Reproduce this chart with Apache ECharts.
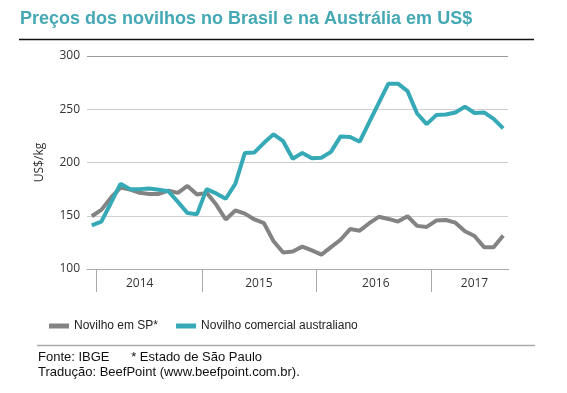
<!DOCTYPE html>
<html><head><meta charset="utf-8">
<script src="https://cdn.jsdelivr.net/npm/echarts@6/dist/echarts.min.js"></script>
<style>html,body{margin:0;padding:0;background:#fff;}#c{width:567px;height:393px;}</style>
</head><body><div id="c"></div>
<script>
const months = [
 'jan/14','fev/14','mar/14','abr/14','mai/14','jun/14','jul/14','ago/14','set/14','out/14','nov/14','dez/14',
 'jan/15','fev/15','mar/15','abr/15','mai/15','jun/15','jul/15','ago/15','set/15','out/15','nov/15','dez/15',
 'jan/16','fev/16','mar/16','abr/16','mai/16','jun/16','jul/16','ago/16','set/16','out/16','nov/16','dez/16',
 'jan/17','fev/17','mar/17','abr/17','mai/17','jun/17','jul/17','ago/17'];
const novilhoSP = [149.5,155.5,167,176.5,174.5,171.5,170.5,170.5,173.5,171.5,178,170,
 171.5,160.5,146.5,155,152,146.5,143,126,115.5,116.5,121,117.5,
 113.5,120.5,127.5,137.5,136,143,149,147,144.5,149.5,140.5,139.5,
 145.5,146,143.5,135.5,131,120.5,120.5,131.5];
const novilhoAus = [141,144.5,162,180,175,175,175.5,174.5,173,163,152.5,151.5,
 175,171,166,180,209,209.5,218.5,226.5,220,203.5,209,204,
 204.5,210,224.5,224,219.5,238,256,274,274,267,246,236,
 244.5,245,247,252.5,246.5,247,241,232];
const yearLabels = ['2014','2015','2016','2017'];
const yearLabelIdx = [5,17,30,40];
const yearLabelStyle = ['c','r','l','c'];
const yearDividerIdx = [1,12,24,36];
const yTicks = [100,150,200,250,300];

const chart = echarts.init(document.getElementById('c'));
chart.setOption({
  animation:false,
  title:{text:'Preços dos novilhos no Brasil e na Austrália em US$',left:20,top:10,padding:0,
    textStyle:{color:'#45a8b5',fontSize:18,fontWeight:'bold',fontFamily:'Liberation Sans'}},
  grid:{left:87,right:59,top:56,bottom:124},
  legend:{left:44,top:315,itemWidth:20,itemHeight:5,itemGap:18,icon:'rect',
    textStyle:{fontFamily:'Liberation Sans',fontSize:12,color:'#222'},
    data:['Novilho em SP*','Novilho comercial australiano']},
  xAxis:{type:'category',data:months,boundaryGap:true,
    axisLine:{lineStyle:{color:'#aaa',width:1}},
    axisTick:{show:true,length:23,lineStyle:{color:'#aaa'},
      interval:function(i){return yearDividerIdx.indexOf(i)>=0;}},
    axisLabel:{interval:0,margin:9,color:'#333',fontFamily:'Open Sans',fontSize:12,
      rich:{c:{color:'#333',fontFamily:'Open Sans',fontSize:12},
            r:{color:'#333',fontFamily:'Open Sans',fontSize:12,padding:[0,0,0,9]},
            l:{color:'#333',fontFamily:'Open Sans',fontSize:12,padding:[0,6,0,0]}},
      formatter:function(v,i){const k=yearLabelIdx.indexOf(i);return k>=0?('{'+yearLabelStyle[k]+'|'+yearLabels[k]+'}'):'';}}},
  yAxis:{type:'value',min:yTicks[0],max:yTicks[yTicks.length-1],interval:50,
    name:'US$/kg',nameLocation:'middle',nameGap:41,nameRotate:90,
    nameTextStyle:{color:'#333',fontFamily:'Open Sans',fontSize:12},
    axisLine:{show:false},axisTick:{show:false},
    axisLabel:{margin:7,color:'#333',fontFamily:'Open Sans',fontSize:12},
    splitLine:{lineStyle:{color:['#aaa','#cfcfcf','#cfcfcf','#cfcfcf','#9a9a9a'],width:1}}},
  series:[
    {name:'Novilho em SP*',type:'line',data:novilhoSP,showSymbol:false,symbol:'none',
      lineStyle:{color:'#838383',width:4},itemStyle:{color:'#838383'}},
    {name:'Novilho comercial australiano',type:'line',data:novilhoAus,showSymbol:false,symbol:'none',
      lineStyle:{color:'#36a9b7',width:4},itemStyle:{color:'#36a9b7'}}
  ],
  graphic:[
    {type:'rect',z:100,shape:{x:505,y:270,width:6,height:24},style:{fill:'#fff'}},
    {type:'line',shape:{x1:19,y1:39.5,x2:534,y2:39.5},style:{stroke:'#111',lineWidth:1.5}},
    {type:'line',shape:{x1:37,y1:345.5,x2:535,y2:345.5},style:{stroke:'#aaa',lineWidth:1.5}},
    {type:'text',left:38,top:351,style:{text:'Fonte: IBGE      * Estado de São Paulo',fill:'#111',font:'13px "Liberation Sans"'}},
    {type:'text',left:38,top:366,style:{text:'Tradução: BeefPoint (www.beefpoint.com.br).',fill:'#111',font:'13px "Liberation Sans"'}}
  ]
});
</script></body></html>
